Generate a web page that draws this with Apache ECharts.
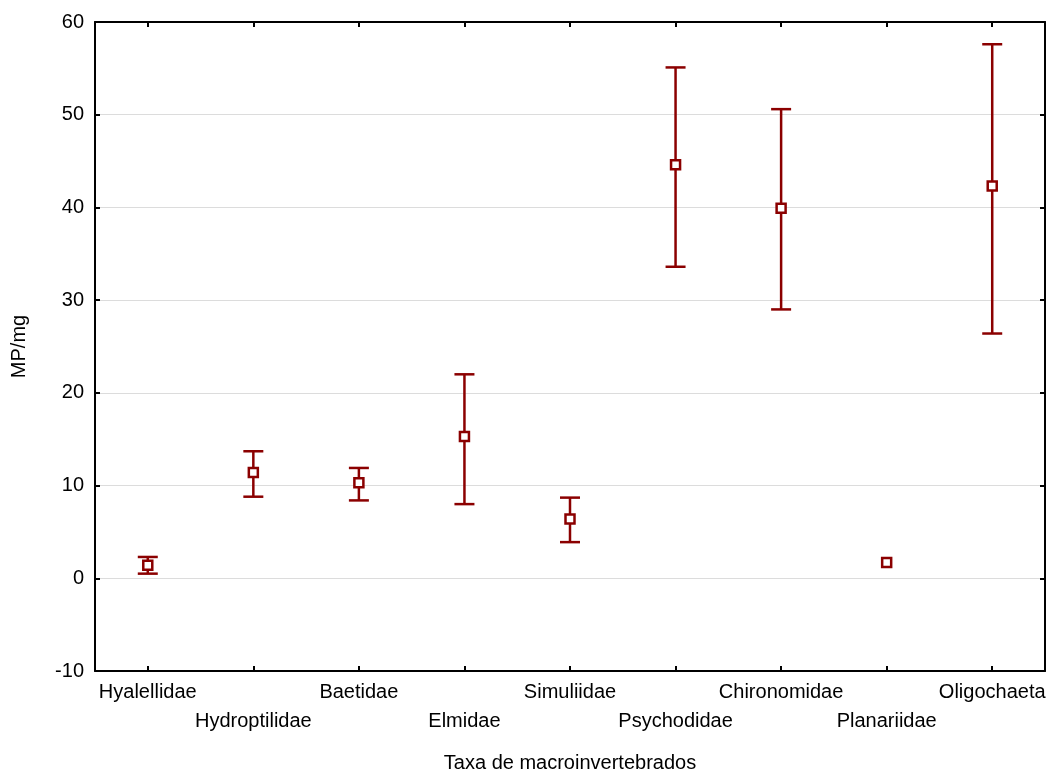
<!DOCTYPE html>
<html>
<head>
<meta charset="utf-8">
<script src="https://cdn.jsdelivr.net/npm/echarts@6/dist/echarts.min.js"></script>
<style>
  html, body { margin: 0; padding: 0; background: #fff; }
  #chart { width: 1052px; height: 773px; }
</style>
</head>
<body>
<div id="chart"></div>
<script>
// taxa on the x axis
var categories = ['Hyalellidae', 'Hydroptilidae', 'Baetidae', 'Elmidae', 'Simuliidae',
    'Psychodidae', 'Chironomidae', 'Planariidae', 'Oligochaeta'];
// mean MP/mg and error bar ends
var means = [1.4, 11.4, 10.3, 15.3, 6.4, 44.6, 39.9, 1.7, 42.3];
var upper = [2.3, 13.7, 11.9, 22.0, 8.7, 55.1, 50.6, null, 57.6];
var lower = [0.5, 8.8, 8.4, 8.0, 3.9, 33.6, 29.0, null, 26.4];
var yTicks = { min: -10, max: 60, interval: 10 };

var red = '#8b0000';
var font = 'Liberation Sans, Arial, sans-serif';

var chart = echarts.init(document.getElementById('chart'));

var barData = [];
categories.forEach(function (c, i) {
    if (upper[i] != null && lower[i] != null) {
        barData.push([i, lower[i], upper[i]]);
    }
});

var frameLine = { show: true, onZero: false, lineStyle: { color: '#000', width: 2 } };
var inTick = { show: true, inside: true, length: 5, lineStyle: { color: '#000', width: 2 } };
var catTick = { show: true, inside: true, length: 5, alignWithLabel: true, lineStyle: { color: '#000', width: 2 } };

var option = {
    animation: false,
    backgroundColor: '#fff',
    grid: { left: 95, right: 7, top: 22, bottom: 102, outerBoundsMode: 'none', containLabel: false },
    xAxis: [{
        type: 'category',
        data: categories,
        position: 'bottom',
        axisLine: frameLine,
        axisTick: catTick,
        axisLabel: {
            interval: 0,
            color: '#000',
            fontFamily: font,
            fontSize: 20,
            lineHeight: 29,
            margin: 7,
            formatter: function (v, i) { return i % 2 ? '\n' + v : v; }
        },
        name: 'Taxa de macroinvertebrados',
        nameLocation: 'middle',
        nameGap: 82,
        nameTextStyle: { color: '#000', fontFamily: font, fontSize: 20 }
    }, {
        type: 'category',
        data: categories,
        position: 'top',
        axisLine: frameLine,
        axisTick: catTick,
        axisLabel: { show: false }
    }],
    yAxis: [{
        type: 'value',
        min: yTicks.min,
        max: yTicks.max,
        interval: yTicks.interval,
        position: 'left',
        axisLine: frameLine,
        axisTick: inTick,
        axisLabel: { color: '#000', fontFamily: font, fontSize: 20, margin: 11 },
        splitLine: { show: true, lineStyle: { color: '#dcdcdc', width: 1 } },
        name: 'MP/mg',
        nameLocation: 'middle',
        nameGap: 66,
        nameTextStyle: { color: '#000', fontFamily: font, fontSize: 20 }
    }, {
        type: 'value',
        min: yTicks.min,
        max: yTicks.max,
        interval: yTicks.interval,
        position: 'right',
        axisLine: frameLine,
        axisTick: inTick,
        axisLabel: { show: false },
        splitLine: { show: false }
    }],
    series: [{
        type: 'custom',
        data: barData,
        z: 2,
        renderItem: function (params, api) {
            var i = api.value(0);
            var lo = api.coord([i, api.value(1)]);
            var hi = api.coord([i, api.value(2)]);
            var w = 10;
            var st = { stroke: red, lineWidth: 2.5 };
            return {
                type: 'group',
                children: [
                    { type: 'line', shape: { x1: lo[0], y1: lo[1], x2: hi[0], y2: hi[1] }, style: st },
                    { type: 'line', shape: { x1: hi[0] - w, y1: hi[1], x2: hi[0] + w, y2: hi[1] }, style: st },
                    { type: 'line', shape: { x1: lo[0] - w, y1: lo[1], x2: lo[0] + w, y2: lo[1] }, style: st }
                ]
            };
        }
    }, {
        type: 'scatter',
        data: means,
        z: 3,
        symbol: 'rect',
        symbolSize: 9,
        itemStyle: { color: '#fff', borderColor: red, borderWidth: 2.5, opacity: 1 }
    }]
};

chart.setOption(option);
</script>
</body>
</html>
